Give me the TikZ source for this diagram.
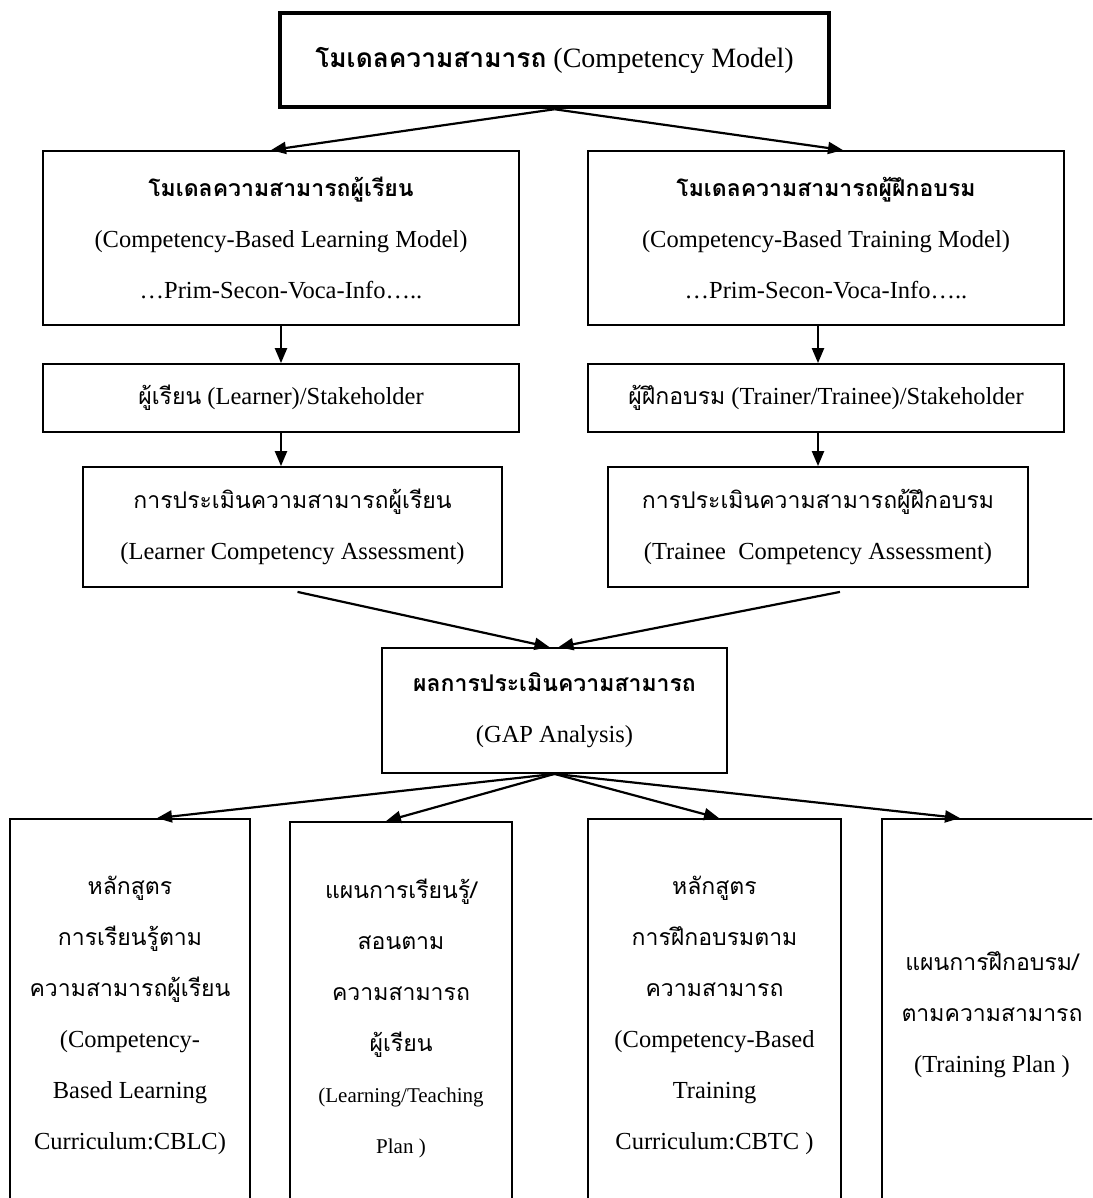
\documentclass[tikz,border=0pt]{standalone}
\usepackage{fontspec}
\setmainfont{Liberation Serif}
\newfontfamily\thai[Script=Thai,Scale=0.94]{Loma}
\usetikzlibrary{arrows.meta,calc}
\begin{document}
\begin{tikzpicture}[x=1pt,y=-1pt,
  box/.style={draw, line width=1.8pt, inner sep=0pt, align=center,
    font=\fontsize{24.5}{51}\selectfont},
  arr/.style={line width=2.2pt, -{Triangle[length=15pt,width=12pt]}}]
\useasboundingbox (0,0) rectangle (1092,1198);
\clip (0,0) rectangle (1092,1198);

\node[box, line width=4.5pt, minimum width=549pt, minimum height=94pt,
  font=\fontsize{28}{40}\selectfont] (T) at (554.5,60)
  {{\thai\bfseries โมเดลความสามารถ} (Competency Model)};

\node[box, minimum width=476pt, minimum height=174pt] (L2) at (281,238)
  {{\thai\bfseries โมเดลความสามารถผู้เรียน}\\(Competency-Based Learning Model)\\…Prim-Secon-Voca-Info…..};
\node[box, minimum width=476pt, minimum height=174pt] (R2) at (826,238)
  {{\thai\bfseries โมเดลความสามารถผู้ฝึกอบรม}\\(Competency-Based Training Model)\\…Prim-Secon-Voca-Info…..};

\node[box, minimum width=476pt, minimum height=68pt] (L3) at (281,398)
  {{\thai ผู้เรียน} (Learner)/Stakeholder};
\node[box, minimum width=476pt, minimum height=68pt] (R3) at (826,398)
  {{\thai ผู้ฝึกอบรม} (Trainer/Trainee)/Stakeholder};

\node[box, minimum width=419pt, minimum height=120pt] (L4) at (292.5,527)
  {{\thai การประเมินความสามารถผู้เรียน}\\(Learner Competency Assessment)};
\node[box, minimum width=420pt, minimum height=120pt] (R4) at (818,527)
  {{\thai การประเมินความสามารถผู้ฝึกอบรม}\\(Trainee\ \ Competency Assessment)};

\node[box, minimum width=345pt, minimum height=125pt] (GAP) at (554.5,710.5)
  {{\thai\bfseries ผลการประเมินความสามารถ}\\(GAP Analysis)};

\node[box, minimum width=240pt, minimum height=392pt] (B1) at (130,1015)
  {{\thai หลักสูตร}\\{\thai การเรียนรู้ตาม}\\{\thai ความสามารถผู้เรียน}\\(Competency-\\Based Learning\\Curriculum:CBLC)};
\node[box, minimum width=222pt, minimum height=392pt] (B2) at (401,1018)
  {{\thai แผนการเรียนรู้/}\\{\thai สอนตาม}\\{\thai ความสามารถ}\\{\thai ผู้เรียน}\\{\fontsize{21}{51}\selectfont (Learning/Teaching}\\{\fontsize{21}{51}\selectfont Plan )}};
\node[box, minimum width=253pt, minimum height=392pt] (B3) at (714.5,1015)
  {{\thai หลักสูตร}\\{\thai การฝึกอบรมตาม}\\{\thai ความสามารถ}\\(Competency-Based\\Training\\Curriculum:CBTC )};
\node[box, minimum width=220pt, minimum height=392pt] (B4) at (992,1015)
  {{\thai แผนการฝึกอบรม/}\\{\thai ตามความสามารถ}\\(Training Plan )};

\draw[arr] (T.south) -- ($(L2.north)+(-10,0)$);
\draw[arr] (T.south) -- ($(R2.north)+(17,0)$);
\draw[arr] (L2.south) -- (L3.north);
\draw[arr] (L3.south) -- (L3.south |- L4.north);
\draw[arr] (R2.south -| R4.north) -- (R3.north -| R4.north);
\draw[arr] (R3.south -| R4.north) -- (R4.north);
\coordinate (ls) at ($(L4.south)+(5,4)$);
\coordinate (rs) at ($(R4.south)+(22,4)$);
\draw[arr] (ls) -- ($(GAP.north)+(-5,0)$);
\draw[arr] (rs) -- ($(GAP.north)+(4,0)$);
\draw[arr] (GAP.south) -- ($(B1.north)+(27,0)$);
\draw[arr] (GAP.south) -- ($(B2.north)+(-15,0)$);
\draw[arr] (GAP.south) -- ($(B3.north)+(4.5,0)$);
\draw[arr] (GAP.south) -- ($(B4.north)+(-32,0)$);
\end{tikzpicture}
\end{document}
